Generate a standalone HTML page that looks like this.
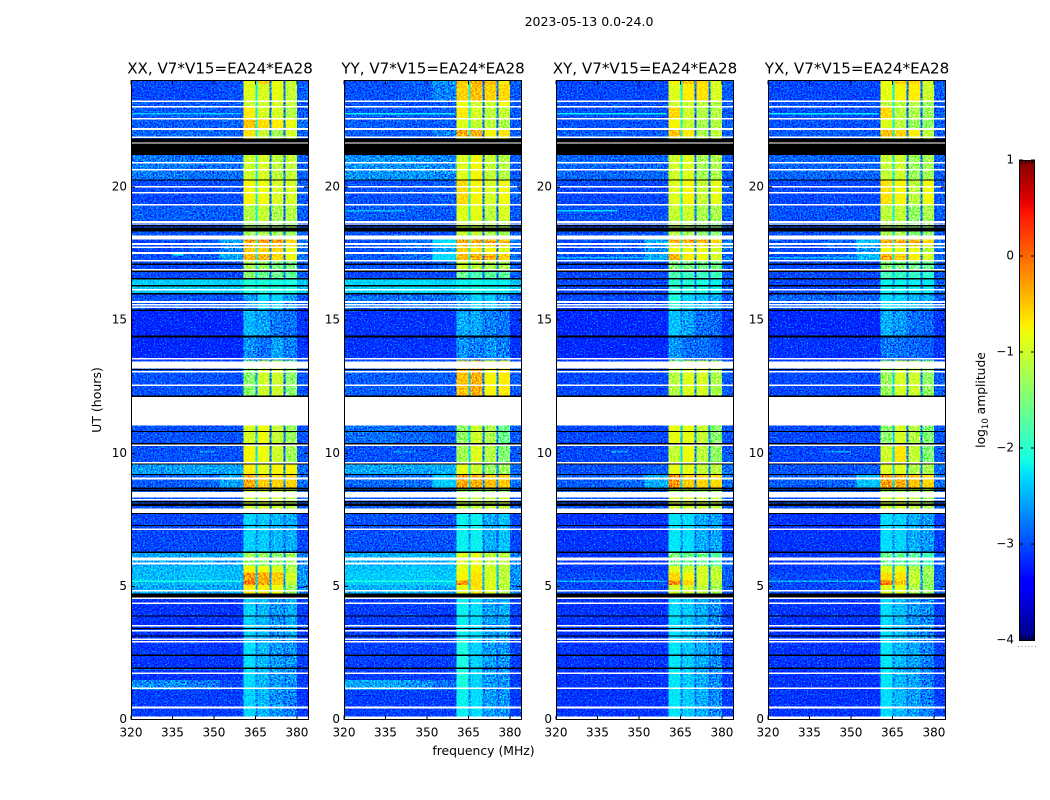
<!DOCTYPE html>
<html lang="en">
<head>
<meta charset="utf-8">
<title>2023-05-13 0.0-24.0 dynamic spectrum</title>
<style>
html,body{margin:0;padding:0;background:#fff;width:1050px;height:800px;overflow:hidden}
svg{display:block}
text{font-family:"DejaVu Sans","Liberation Sans",sans-serif;fill:#000}
.tick{font-size:12px}
.grain{mix-blend-mode:overlay}
.speck{mix-blend-mode:screen}
</style>
</head>
<body>
<svg id="chart" xmlns="http://www.w3.org/2000/svg" width="1050" height="800" viewBox="0 0 1050 800">
  <defs>
    <filter id="grain-filter" x="0" y="0" width="100%" height="100%" color-interpolation-filters="sRGB">
      <feTurbulence type="fractalNoise" baseFrequency="0.62" numOctaves="1" seed="4"/>
      <feColorMatrix type="matrix" values="2.6 0 0 0 -0.8  2.6 0 0 0 -0.8  2.6 0 0 0 -0.8  0 0 0 0 1"/>
    </filter>
    <filter id="speck-filter" x="0" y="0" width="100%" height="100%" color-interpolation-filters="sRGB">
      <feTurbulence type="fractalNoise" baseFrequency="0.7" numOctaves="1" seed="11"/>
      <feColorMatrix type="matrix" values="0 0 0 0 0  2.8 0 0 0 -1.5  0 0 0 0 0  0 0 0 0 1"/>
    </filter>
  </defs>
  <text x="589" y="26" text-anchor="middle" font-size="12.5">2023-05-13 0.0-24.0</text>
  <text transform="translate(101 400) rotate(-90)" text-anchor="middle" font-size="12.5">UT (hours)</text>
  <text x="483.5" y="755" text-anchor="middle" font-size="12.4">frequency (MHz)</text>
  <text transform="translate(985 400) rotate(-90)" text-anchor="middle" font-size="12.3">log<tspan font-size="8.5" dy="3">10</tspan><tspan dy="-3"> amplitude</tspan></text>
  <g id="panels"></g>
  <g id="colorbar"></g>
</svg>
<script>
// ---------- chart data ----------
const panelTitles = ["XX, V7*V15=EA24*EA28", "YY, V7*V15=EA24*EA28", "XY, V7*V15=EA24*EA28", "YX, V7*V15=EA24*EA28"];
const freqTicks = [320, 335, 350, 365, 380];
const utTicks = [0, 5, 10, 15, 20];
const colorbarTicks = [1, 0, -1, -2, -3, -4];
const colorbarLabels = ["1", "0", "\u22121", "\u22122", "\u22123", "\u22124"];

// frequency column edges in MHz: three background columns, four sub-bands with gaps, top edge
const freqEdges = [320, 340, 352, 360.6, 365.1, 365.7, 370, 370.8, 375.1, 375.8, 380, 384];
// time row edges in UT hours, descending
const utEdges = [24, 23.87, 23.25, 22.98, 22.57, 22.20, 21.84, 21.18, 20.24, 19.31, 18.74, 18.03, 17.80, 17.54, 17.24, 16.87, 16.57, 16.00, 15.37, 14.39, 13.49, 12.14, 11.05, 10.30, 9.62, 9.21, 8.65, 8.35, 7.75, 6.29, 5.76, 5.53, 5.23, 5.05, 4.60, 2.91, 1.48, 1.11, 0];

// log10 amplitude per row and column
const xxValues = [
[-3.1,-3.1,-3.1,-0.85,-2.2,-0.55,-2.9,-0.85,-2.9,-1.05,-3.0],
[-3.1,-3.1,-3.05,-0.9,-2.2,-0.95,-2.9,-0.85,-2.9,-1.05,-3.0],
[-3.0,-3.0,-3.0,-1.0,-2.2,-1.0,-2.9,-0.95,-2.9,-1.05,-3.0],
[-3.0,-3.0,-3.0,-0.7,-2.2,-0.95,-2.9,-0.95,-2.9,-1.15,-3.0],
[-3.0,-3.0,-2.95,-0.45,-2.2,-0.6,-2.9,-0.7,-2.9,-0.85,-2.9],
[-2.95,-2.95,-2.95,-0.65,-2.2,-1.05,-2.9,-1.25,-2.9,-0.95,-3.0],
[-3.0,-3.0,-3.0,-1.0,-2.2,-1.0,-2.9,-1.0,-2.9,-1.0,-3.0],
[-2.85,-2.9,-2.9,-1.0,-2.2,-0.95,-2.9,-1.1,-2.9,-1.05,-3.0],
[-3.1,-3.1,-3.05,-0.75,-2.2,-0.8,-2.9,-0.95,-2.9,-0.95,-3.0],
[-3.0,-3.0,-3.0,-1.15,-2.2,-1.05,-2.9,-1.2,-2.9,-1.15,-3.0],
[-3.05,-3.05,-3.05,-1.25,-2.3,-1.2,-2.9,-1.3,-2.9,-1.3,-3.0],
[-3.1,-3.0,-2.6,-0.3,-2.2,-0.25,-2.7,-0.3,-2.8,-0.6,-2.9],
[-3.1,-3.05,-2.8,-0.5,-2.2,-0.55,-2.8,-0.6,-2.8,-0.85,-2.9],
[-3.05,-3.0,-2.6,-0.4,-2.2,-0.4,-2.8,-0.6,-2.9,-0.8,-2.9],
[-3.1,-3.1,-3.05,-1.2,-2.3,-1.3,-2.9,-1.5,-2.9,-1.5,-3.0],
[-3.1,-3.1,-3.1,-1.4,-2.4,-1.6,-2.9,-1.6,-2.9,-1.7,-3.0],
[-2.4,-2.35,-2.4,-2.05,-2.3,-2.05,-2.3,-2.1,-2.3,-2.1,-2.45],
[-3.05,-3.05,-3.05,-2.65,-2.9,-2.3,-2.9,-2.35,-2.9,-2.65,-3.05],
[-3.25,-3.25,-3.25,-2.5,-2.8,-2.6,-2.9,-2.85,-2.95,-2.9,-3.2],
[-3.25,-3.25,-3.25,-2.7,-2.85,-2.9,-2.95,-2.6,-2.95,-2.8,-3.2],
[-3.05,-3.05,-3.05,-1.4,-2.6,-1.0,-2.9,-1.0,-2.9,-1.4,-3.05],
[-3.05,-3.05,-3.05,-1.4,-2.6,-1.0,-2.9,-1.0,-2.9,-1.4,-3.05],
[-3.05,-3.05,-3.05,-0.95,-2.5,-0.8,-2.9,-1.05,-2.9,-1.3,-3.05],
[-3.05,-3.05,-3.05,-0.75,-2.3,-0.8,-2.9,-1.0,-2.9,-1.25,-3.0],
[-2.65,-2.6,-2.6,-0.7,-2.3,-0.85,-2.8,-0.75,-2.8,-0.75,-2.9],
[-3.0,-2.95,-2.6,-0.3,-2.3,-0.5,-2.8,-0.55,-2.8,-0.55,-2.9],
[-3.0,-3.0,-3.0,-1.0,-2.4,-1.0,-2.9,-1.0,-2.9,-1.1,-3.0],
[-3.05,-3.05,-3.05,-0.95,-2.4,-0.95,-2.9,-1.0,-2.9,-1.1,-3.0],
[-3.1,-3.1,-3.1,-2.35,-2.75,-2.4,-2.85,-2.5,-2.9,-2.55,-3.1],
[-2.6,-2.6,-2.6,-1.3,-2.4,-1.35,-2.7,-1.4,-2.7,-1.3,-2.8],
[-2.5,-2.45,-2.5,-0.75,-2.4,-0.8,-2.6,-0.9,-2.6,-1.15,-2.7],
[-2.5,-2.45,-2.5,-0.25,-2.4,-0.35,-2.6,-0.5,-2.6,-0.95,-2.7],
[-2.5,-2.45,-2.5,0.0,-2.4,-0.3,-2.6,-0.55,-2.6,-1.1,-2.7],
[-2.6,-2.6,-2.6,-0.7,-2.4,-0.7,-2.6,-0.8,-2.7,-1.3,-2.8],
[-3.2,-3.2,-3.2,-2.35,-2.8,-2.5,-2.9,-2.7,-2.9,-2.55,-3.15],
[-3.2,-3.2,-3.2,-2.3,-2.8,-2.5,-2.9,-2.65,-2.9,-2.7,-3.15],
[-2.75,-2.85,-3.1,-2.3,-2.8,-2.5,-2.9,-2.65,-2.9,-2.7,-3.15],
[-3.15,-3.15,-3.15,-2.35,-2.8,-2.5,-2.9,-2.7,-2.9,-2.8,-3.2]
];
const yyValues = [
[-3.05,-3.0,-2.7,-0.5,-2.2,-0.35,-2.9,-0.4,-2.9,-0.75,-3.0],
[-3.05,-3.0,-2.8,-0.55,-2.2,-0.45,-2.9,-0.55,-2.9,-0.6,-3.0],
[-3.05,-3.05,-3.0,-0.8,-2.2,-1.0,-2.9,-1.0,-2.9,-0.8,-3.0],
[-3.0,-3.0,-3.0,-0.7,-2.2,-0.95,-2.9,-1.1,-2.9,-1.05,-3.0],
[-3.0,-3.0,-3.0,-0.9,-2.2,-1.05,-2.9,-1.1,-2.9,-1.2,-3.0],
[-3.0,-3.0,-2.8,-0.3,-2.2,-0.35,-2.9,-0.75,-2.9,-0.65,-3.0],
[-3.0,-3.0,-3.0,-1.0,-2.2,-1.0,-2.9,-1.0,-2.9,-1.0,-3.0],
[-2.7,-2.7,-2.75,-0.9,-2.2,-0.75,-2.9,-1.05,-2.9,-1.15,-3.0],
[-3.05,-3.05,-3.0,-0.6,-2.2,-0.75,-2.9,-0.95,-2.9,-0.8,-3.0],
[-3.0,-3.0,-3.0,-0.9,-2.2,-0.85,-2.9,-1.1,-2.9,-0.95,-3.0],
[-3.05,-3.05,-3.05,-1.0,-2.3,-1.05,-2.9,-1.2,-2.9,-1.25,-3.0],
[-3.05,-2.95,-2.3,-0.3,-2.2,-0.25,-2.6,-0.3,-2.7,-0.45,-2.9],
[-3.05,-3.0,-2.6,-0.55,-2.2,-0.7,-2.7,-0.75,-2.8,-0.9,-2.9],
[-3.0,-2.9,-2.3,-0.4,-2.2,-0.35,-2.7,-0.4,-2.8,-0.55,-2.9],
[-3.05,-3.05,-2.95,-1.0,-2.3,-1.1,-2.9,-1.2,-2.9,-1.2,-3.0],
[-3.1,-3.1,-3.1,-1.6,-2.4,-1.8,-2.9,-1.7,-2.9,-1.7,-3.0],
[-2.35,-2.3,-2.35,-2.2,-2.3,-2.15,-2.3,-2.2,-2.3,-2.2,-2.45],
[-2.9,-2.9,-2.9,-2.65,-2.8,-2.35,-2.9,-2.4,-2.9,-2.65,-3.0],
[-3.2,-3.2,-3.2,-2.55,-2.8,-2.6,-2.9,-2.8,-2.95,-2.85,-3.2],
[-3.2,-3.2,-3.2,-2.7,-2.85,-2.8,-2.95,-2.7,-2.95,-2.8,-3.2],
[-3.0,-3.0,-3.0,-0.45,-2.4,-0.35,-2.8,-0.75,-2.8,-0.7,-3.0],
[-3.0,-3.0,-3.0,-0.45,-2.4,-0.35,-2.8,-0.75,-2.8,-0.7,-3.0],
[-2.9,-2.95,-3.0,-1.35,-2.4,-1.0,-2.8,-1.2,-2.8,-1.6,-3.0],
[-3.05,-3.05,-3.05,-1.25,-2.3,-0.9,-2.8,-1.15,-2.8,-1.45,-3.0],
[-2.6,-2.6,-2.55,-0.85,-2.3,-1.0,-2.7,-1.3,-2.7,-1.3,-2.9],
[-2.95,-2.9,-2.4,-0.25,-2.3,-0.35,-2.7,-0.45,-2.7,-0.5,-2.9],
[-3.0,-3.0,-3.0,-1.3,-2.4,-1.3,-2.8,-1.3,-2.8,-1.3,-3.0],
[-3.0,-3.0,-3.0,-1.05,-2.4,-1.05,-2.8,-1.05,-2.8,-1.05,-3.0],
[-3.05,-3.05,-3.05,-2.2,-2.7,-2.2,-2.85,-2.55,-2.9,-2.45,-3.1],
[-2.55,-2.55,-2.55,-0.9,-2.3,-0.85,-2.6,-1.1,-2.6,-1.1,-2.8],
[-2.45,-2.4,-2.45,-0.85,-2.3,-0.75,-2.5,-0.95,-2.5,-1.1,-2.7],
[-2.4,-2.4,-2.4,-0.75,-2.3,-0.65,-2.5,-0.95,-2.5,-1.1,-2.7],
[-2.4,-2.4,-2.4,-0.2,-2.3,-0.6,-2.5,-0.9,-2.5,-1.05,-2.7],
[-2.55,-2.55,-2.55,-0.85,-2.3,-0.65,-2.6,-0.9,-2.6,-1.15,-2.8],
[-3.15,-3.15,-3.15,-2.2,-2.75,-2.3,-2.85,-2.6,-2.9,-2.55,-3.15],
[-3.15,-3.15,-3.15,-2.1,-2.75,-2.35,-2.85,-2.65,-2.9,-2.7,-3.15],
[-2.6,-2.7,-2.9,-2.1,-2.75,-2.35,-2.85,-2.65,-2.9,-2.7,-3.15],
[-3.15,-3.15,-3.15,-2.2,-2.75,-2.3,-2.85,-2.65,-2.9,-2.7,-3.15]
];
const xyValues = [
[-3.1,-3.1,-3.1,-0.75,-2.2,-0.5,-2.9,-0.6,-2.9,-0.95,-3.0],
[-3.1,-3.1,-3.1,-0.9,-2.2,-0.7,-2.9,-0.65,-2.9,-0.95,-3.0],
[-3.05,-3.05,-3.05,-1.0,-2.2,-1.0,-2.9,-1.1,-2.9,-1.15,-3.0],
[-3.05,-3.05,-3.05,-0.6,-2.2,-1.0,-2.9,-1.15,-2.9,-1.15,-3.0],
[-3.05,-3.05,-3.05,-0.75,-2.2,-1.05,-2.9,-1.2,-2.9,-1.15,-3.0],
[-3.0,-3.0,-3.0,-0.45,-2.2,-0.7,-2.9,-1.2,-2.9,-1.1,-3.0],
[-3.0,-3.0,-3.0,-1.0,-2.2,-1.0,-2.9,-1.0,-2.9,-1.0,-3.0],
[-2.95,-2.95,-2.95,-1.0,-2.2,-0.9,-2.9,-1.25,-2.9,-1.2,-3.0],
[-3.1,-3.1,-3.1,-0.9,-2.2,-0.75,-2.9,-1.05,-2.9,-0.85,-3.0],
[-3.05,-3.05,-3.05,-1.05,-2.2,-1.0,-2.9,-1.2,-2.9,-1.2,-3.0],
[-3.05,-3.05,-3.05,-1.15,-2.3,-1.25,-2.9,-1.4,-2.9,-1.45,-3.0],
[-3.05,-3.0,-2.55,-0.35,-2.2,-0.35,-2.7,-0.4,-2.8,-0.55,-2.9],
[-3.1,-3.05,-2.75,-0.8,-2.2,-0.8,-2.8,-0.8,-2.8,-0.95,-2.9],
[-3.05,-3.0,-2.6,-0.35,-2.2,-0.7,-2.8,-0.8,-2.9,-0.95,-2.9],
[-3.1,-3.1,-3.1,-1.45,-2.3,-1.5,-2.9,-1.55,-2.9,-1.55,-3.0],
[-3.1,-3.1,-3.1,-1.8,-2.4,-1.9,-2.9,-1.9,-2.9,-1.9,-3.0],
[-3.1,-3.1,-3.1,-2.0,-2.7,-2.05,-2.8,-2.1,-2.8,-2.2,-3.0],
[-3.1,-3.1,-3.1,-2.1,-2.75,-2.35,-2.85,-2.45,-2.9,-2.55,-3.05],
[-3.25,-3.25,-3.25,-2.45,-2.8,-2.6,-2.9,-2.9,-2.95,-2.95,-3.2],
[-3.25,-3.25,-3.25,-2.7,-2.85,-2.9,-2.95,-2.9,-2.95,-3.0,-3.2],
[-3.1,-3.1,-3.1,-1.15,-2.4,-0.9,-2.8,-0.95,-2.8,-1.2,-3.0],
[-3.1,-3.1,-3.1,-1.15,-2.4,-0.9,-2.8,-0.95,-2.8,-1.2,-3.0],
[-3.1,-3.1,-3.1,-0.85,-2.4,-0.85,-2.8,-1.05,-2.8,-1.4,-3.05],
[-3.1,-3.1,-3.1,-1.05,-2.3,-0.8,-2.8,-1.1,-2.8,-1.35,-3.0],
[-3.05,-3.05,-3.0,-0.85,-2.3,-0.85,-2.8,-1.05,-2.8,-1.1,-2.9],
[-3.0,-2.95,-2.55,-0.2,-2.3,-0.5,-2.7,-0.55,-2.7,-0.6,-2.9],
[-3.0,-3.0,-3.0,-1.2,-2.4,-1.2,-2.8,-1.2,-2.8,-1.2,-3.0],
[-3.05,-3.05,-3.05,-0.95,-2.4,-0.95,-2.8,-1.0,-2.8,-1.1,-3.0],
[-3.2,-3.2,-3.2,-2.25,-2.75,-2.3,-2.85,-2.55,-2.9,-2.6,-3.15],
[-3.2,-3.2,-3.2,-1.5,-2.5,-1.6,-2.8,-1.6,-2.8,-1.75,-3.0],
[-3.15,-3.15,-3.15,-0.9,-2.5,-1.0,-2.8,-0.95,-2.8,-1.1,-3.0],
[-3.1,-3.1,-3.1,-0.6,-2.5,-0.75,-2.8,-0.95,-2.8,-1.05,-3.0],
[-3.1,-3.1,-3.1,-0.05,-2.5,-0.55,-2.8,-0.95,-2.8,-1.15,-3.0],
[-3.1,-3.1,-3.1,-0.95,-2.5,-0.95,-2.8,-1.1,-2.8,-1.25,-3.0],
[-3.2,-3.2,-3.2,-2.3,-2.75,-2.4,-2.85,-2.55,-2.9,-2.75,-3.15],
[-3.2,-3.2,-3.2,-2.25,-2.75,-2.4,-2.85,-2.55,-2.9,-2.75,-3.15],
[-3.2,-3.2,-3.2,-2.25,-2.75,-2.4,-2.85,-2.55,-2.9,-2.75,-3.15],
[-3.2,-3.2,-3.2,-2.25,-2.75,-2.4,-2.85,-2.55,-2.9,-2.75,-3.15]
];
const yxValues = [
[-3.1,-3.1,-3.1,-0.8,-2.2,-0.55,-2.9,-0.6,-2.9,-1.0,-3.0],
[-3.1,-3.1,-3.1,-0.85,-2.2,-0.75,-2.9,-0.7,-2.9,-1.0,-3.0],
[-3.05,-3.05,-3.05,-1.1,-2.2,-1.1,-2.9,-1.15,-2.9,-1.3,-3.0],
[-3.05,-3.05,-3.05,-0.6,-2.2,-1.1,-2.9,-1.2,-2.9,-1.3,-3.0],
[-3.05,-3.05,-3.05,-0.9,-2.2,-1.1,-2.9,-1.3,-2.9,-1.35,-3.0],
[-3.0,-3.0,-3.0,-0.45,-2.2,-0.55,-2.9,-0.7,-2.9,-1.1,-3.0],
[-3.0,-3.0,-3.0,-1.0,-2.2,-1.0,-2.9,-1.0,-2.9,-1.0,-3.0],
[-2.95,-2.95,-2.95,-1.05,-2.2,-1.0,-2.9,-1.3,-2.9,-1.25,-3.0],
[-3.1,-3.1,-3.1,-0.65,-2.2,-0.75,-2.9,-1.1,-2.9,-0.8,-3.0],
[-3.05,-3.05,-3.05,-1.1,-2.2,-1.05,-2.9,-1.35,-2.9,-1.2,-3.0],
[-3.05,-3.05,-3.05,-1.2,-2.3,-1.2,-2.9,-1.45,-2.9,-1.4,-3.0],
[-3.05,-2.95,-2.45,-0.25,-2.2,-0.3,-2.7,-0.35,-2.8,-0.55,-2.9],
[-3.1,-3.05,-2.7,-0.8,-2.2,-0.85,-2.8,-0.85,-2.8,-1.1,-2.9],
[-3.05,-2.95,-2.5,-0.35,-2.2,-0.55,-2.8,-0.7,-2.9,-0.95,-2.9],
[-3.1,-3.1,-3.1,-1.4,-2.3,-1.5,-2.9,-1.55,-2.9,-1.6,-3.0],
[-3.1,-3.1,-3.1,-1.85,-2.4,-1.95,-2.9,-1.95,-2.9,-2.0,-3.0],
[-3.1,-3.1,-3.1,-2.2,-2.7,-2.2,-2.8,-2.2,-2.8,-2.25,-3.0],
[-2.95,-2.95,-2.95,-2.3,-2.75,-2.35,-2.85,-2.5,-2.9,-2.55,-3.0],
[-3.25,-3.25,-3.25,-2.55,-2.8,-2.65,-2.9,-2.9,-2.95,-2.95,-3.2],
[-3.2,-3.2,-3.2,-2.85,-2.9,-2.9,-2.95,-2.95,-2.95,-3.0,-3.2],
[-3.1,-3.1,-3.1,-1.3,-2.4,-0.95,-2.8,-1.0,-2.8,-1.35,-3.0],
[-3.1,-3.1,-3.1,-1.3,-2.4,-0.95,-2.8,-1.0,-2.8,-1.35,-3.0],
[-3.1,-3.1,-3.1,-1.4,-2.4,-0.95,-2.8,-1.15,-2.8,-1.45,-3.05],
[-3.1,-3.1,-3.1,-1.0,-2.3,-0.65,-2.8,-1.05,-2.8,-1.45,-3.0],
[-3.05,-3.05,-3.0,-0.9,-2.3,-0.9,-2.8,-1.2,-2.8,-1.2,-2.9],
[-3.0,-2.95,-2.45,-0.25,-2.3,-0.35,-2.7,-0.45,-2.7,-0.55,-2.9],
[-3.0,-3.0,-3.0,-1.2,-2.4,-1.2,-2.8,-1.2,-2.8,-1.2,-3.0],
[-3.05,-3.05,-3.05,-0.95,-2.4,-0.95,-2.8,-1.05,-2.8,-1.25,-3.0],
[-3.2,-3.2,-3.2,-2.3,-2.75,-2.35,-2.85,-2.55,-2.9,-2.65,-3.15],
[-3.2,-3.2,-3.2,-1.6,-2.5,-1.7,-2.8,-1.7,-2.8,-1.9,-3.0],
[-3.15,-3.15,-3.15,-0.9,-2.5,-0.85,-2.8,-1.15,-2.8,-1.25,-3.0],
[-3.1,-3.1,-3.1,-0.6,-2.5,-0.65,-2.8,-1.05,-2.8,-1.3,-3.0],
[-3.1,-3.1,-3.1,-0.05,-2.5,-0.45,-2.8,-1.05,-2.8,-1.35,-3.0],
[-3.1,-3.1,-3.1,-0.9,-2.5,-0.85,-2.8,-1.2,-2.8,-1.35,-3.0],
[-3.2,-3.2,-3.2,-2.3,-2.75,-2.45,-2.85,-2.65,-2.9,-2.75,-3.15],
[-3.2,-3.2,-3.2,-2.25,-2.75,-2.5,-2.85,-2.6,-2.9,-2.8,-3.15],
[-3.2,-3.2,-3.2,-2.25,-2.75,-2.5,-2.85,-2.6,-2.9,-2.8,-3.15],
[-3.2,-3.2,-3.2,-2.3,-2.75,-2.5,-2.85,-2.65,-2.9,-2.8,-3.15]
];
const panelValues = [xxValues, yyValues, xyValues, yxValues];

// short interference streaks: panel index, UT, start MHz, end MHz, log10 amplitude
const streaks = [
[0,22.75,320,360,-2.4],[1,22.75,320,360,-2.2],[2,22.75,320,360,-2.2],[3,22.75,320,360,-2.2],
[0,17.45,335,339,-2.2],[1,19.1,320,342,-2.5],[2,19.1,320,342,-2.3],[2,17.35,320,360,-2.5],[3,17.35,320,360,-2.5],
[0,5.2,320,360,-2.1],[1,5.2,320,360,-2.1],[2,5.2,320,360,-2.5],[3,5.2,320,360,-2.5],
[0,1.9,320,360,-2.7],[2,10.05,340,346,-2.6],[3,10.05,340,350,-2.6],[0,10.05,345,350,-2.6],[1,10.05,338,346,-2.7]
];

// flagged integrations, shared by all four panels (UT hours)
const whiteThin = [23.22,23.01,22.57,22.18,21.87,21.66,20.91,20.65,20.01,19.78,19.34,18.57,17.86,17.73,17.52,17.23,16.89,16.14,15.68,15.58,15.48,13.55,13.06,12.56,10.30,9.64,9.05,8.26,7.14,5.86,4.84,4.56,4.36,3.52,3.34,3.01,2.92,1.73,1.17,0.45,0.09,0.04];
const whiteWide = [[18.72,18.63],[18.18,18.03],[13.44,13.19],[12.13,11.05],[8.55,8.34],[7.93,7.75],[6.09,5.97]];
const blackThin = [20.26,18.54,17.09,16.83,16.55,16.29,15.99,15.37,13.14,12.14,10.81,10.35,9.59,9.20,8.68,8.61,8.17,7.73,7.28,6.28,3.88,3.41,3.13,2.41,1.92];
const blackWide = [[21.82,21.68],[21.63,21.20],[18.48,18.33],[14.43,14.35],[8.11,8.02],[4.74,4.59]];

// ---------- scales and layout ----------
const panelLefts = [131, 344, 556, 768];
const panelWidth = 177;
const plotTop = 80.5;
const plotBottom = 719.5;
const svgNS = 'http://www.w3.org/2000/svg';
const root = document.getElementById('panels');
const xScale = (left, mhz) => left + (mhz - 320) / 64 * panelWidth;
const yScale = ut => plotBottom - ut / 24 * (plotBottom - plotTop);
const cbTop = 160, cbBottom = 640, cbLeft = 1019, cbRight = 1035;
const cbScale = v => cbTop + (1 - v) / 5 * (cbBottom - cbTop);

function ramp(t, pts) {
  if (t <= pts[0][0]) return pts[0][1];
  for (let i = 1; i < pts.length; i++) {
    if (t <= pts[i][0]) {
      const a = pts[i - 1], b = pts[i];
      return a[1] + (b[1] - a[1]) * (t - a[0]) / (b[0] - a[0]);
    }
  }
  return pts[pts.length - 1][1];
}
const redStops = [[0.35, 0], [0.66, 1], [0.89, 1], [1, 0.5]];
const greenStops = [[0.125, 0], [0.375, 1], [0.64, 1], [0.91, 0]];
const blueStops = [[0, 0.5], [0.11, 1], [0.34, 1], [0.65, 0]];
function jet(v) {
  const t = Math.min(1, Math.max(0, (v + 4) / 5));
  const c = s => Math.round(255 * ramp(t, s));
  return 'rgb(' + c(redStops) + ',' + c(greenStops) + ',' + c(blueStops) + ')';
}
function makeRect(parent, x, y, w, h, fill) {
  const r = document.createElementNS(svgNS, 'rect');
  r.setAttribute('x', x);
  r.setAttribute('y', y);
  r.setAttribute('width', w);
  r.setAttribute('height', h);
  r.setAttribute('fill', fill);
  r.setAttribute('shape-rendering', 'crispEdges');
  parent.appendChild(r);
  return r;
}
function makeLine(parent, x1, y1, x2, y2) {
  const l = document.createElementNS(svgNS, 'line');
  l.setAttribute('x1', x1);
  l.setAttribute('y1', y1);
  l.setAttribute('x2', x2);
  l.setAttribute('y2', y2);
  l.setAttribute('stroke', '#000');
  l.setAttribute('stroke-width', '1');
  l.setAttribute('shape-rendering', 'crispEdges');
  parent.appendChild(l);
  return l;
}
function makeText(parent, x, y, anchor, str) {
  const t = document.createElementNS(svgNS, 'text');
  t.setAttribute('x', x);
  t.setAttribute('y', y);
  t.setAttribute('text-anchor', anchor);
  t.setAttribute('class', 'tick');
  t.textContent = str;
  parent.appendChild(t);
  return t;
}

// ---------- panels ----------
const thinFlag = 0.06;
panelTitles.forEach((title, p) => {
  const left = panelLefts[p];
  const right = left + panelWidth;
  const g = document.createElementNS(svgNS, 'g');
  
  
  root.appendChild(g);

  panelValues[p].forEach((row, r) => {
    const y0 = yScale(utEdges[r]);
    const y1 = yScale(utEdges[r + 1]);
    row.forEach((value, c) => {
      const x0 = xScale(left, freqEdges[c]);
      const x1 = xScale(left, freqEdges[c + 1]);
      const cell = makeRect(g, x0, y0, x1 - x0, y1 - y0, jet(value));
      
      
    });
  });

  streaks.filter(s => s[0] === p).forEach(s => {
    const x0 = xScale(left, s[2]);
    const x1 = xScale(left, s[3]);
    const streak = makeRect(g, x0, yScale(s[1]) - 0.75, x1 - x0, 1.5, jet(s[4]));
    
    
  });

  const grain = makeRect(g, left, plotTop, panelWidth, plotBottom - plotTop, '#808080');
  grain.setAttribute('class', 'grain');
  grain.setAttribute('filter', 'url(#grain-filter)');
  
  

  const speck = makeRect(g, left, plotTop, panelWidth, plotBottom - plotTop, '#000');
  speck.setAttribute('class', 'speck');
  speck.setAttribute('filter', 'url(#speck-filter)');
  
  

  whiteThin.forEach(ut => {
    const flag = makeRect(g, left, yScale(ut + thinFlag / 2), panelWidth, thinFlag * 26.625, '#fff');
    
    
  });
  whiteWide.forEach(range => {
    const flag = makeRect(g, left, yScale(range[0]), panelWidth, yScale(range[1]) - yScale(range[0]), '#fff');
    
    
  });
  blackThin.forEach(ut => {
    const flag = makeRect(g, left, yScale(ut + thinFlag / 2), panelWidth, thinFlag * 22, '#000');
    
    
  });
  blackWide.forEach(range => {
    const flag = makeRect(g, left, yScale(range[0]), panelWidth, yScale(range[1]) - yScale(range[0]), '#000');
    
    
  });

  const frame = document.createElementNS(svgNS, 'rect');
  frame.setAttribute('x', left + 0.5);
  frame.setAttribute('y', 80.5);
  frame.setAttribute('width', panelWidth);
  frame.setAttribute('height', 639);
  frame.setAttribute('fill', 'none');
  frame.setAttribute('stroke', '#000');
  frame.setAttribute('shape-rendering', 'crispEdges');
  
  
  g.appendChild(frame);

  freqTicks.forEach(f => {
    const x = xScale(left, f);
    const bottomTick = makeLine(g, x, plotBottom, x, plotBottom - 4);
    
    
    const topTick = makeLine(g, x, plotTop, x, plotTop + 4);
    
    
    const label = makeText(g, x, 736.5, 'middle', String(f));
    
    
  });
  utTicks.forEach(u => {
    const y = yScale(u);
    const leftTick = makeLine(g, left, y, left + 4, y);
    
    
    const rightTick = makeLine(g, right, y, right - 4, y);
    
    
    const label = makeText(g, left - 4, y + 3.5, 'end', String(u));
    
    
  });

  const heading = makeText(g, left + panelWidth / 2 + 0.5, 73.5, 'middle', title);
  heading.setAttribute('class', '');
  heading.setAttribute('font-size', '15.1');
  
  
});

// ---------- colorbar ----------
const cbGroup = document.getElementById('colorbar');
for (let i = 0; i < 240; i++) {
  const level = 1 - (i + 0.5) / 48;
  const step = makeRect(cbGroup, cbLeft, cbTop + i * 2, cbRight - cbLeft, 2, jet(level));
  
  
}
const cbFrame = document.createElementNS(svgNS, 'rect');
cbFrame.setAttribute('x', cbLeft + 0.5);
cbFrame.setAttribute('y', cbTop + 0.5);
cbFrame.setAttribute('width', cbRight - cbLeft - 1);
cbFrame.setAttribute('height', cbBottom - cbTop);
cbFrame.setAttribute('fill', 'none');
cbFrame.setAttribute('stroke', '#000');
cbFrame.setAttribute('shape-rendering', 'crispEdges');


cbGroup.appendChild(cbFrame);

colorbarTicks.forEach((v, i) => {
  const y = cbScale(v);
  const leftTick = makeLine(cbGroup, cbLeft, y, cbLeft + 4, y);
  
  
  const rightTick = makeLine(cbGroup, cbRight, y, cbRight - 4, y);
  
  
  const label = makeText(cbGroup, 1014, y + 3.5, 'end', colorbarLabels[i]);
  
  
});
[0.2, 0.4, 0.6, 0.8].forEach(frac => {
  const x = cbLeft + frac * (cbRight - cbLeft);
  const topMark = makeLine(cbGroup, x, cbTop, x, cbTop + 4);
  
  
  const bottomMark = makeLine(cbGroup, x, cbBottom, x, cbBottom - 4);
  
  
});
[0, 0.2, 0.4, 0.6, 0.8, 1].forEach(frac => {
  const dot = makeRect(cbGroup, cbLeft - 1 + frac * 17, 646, 1, 1, '#999');
  
  
});
</script>
</body>
</html>
